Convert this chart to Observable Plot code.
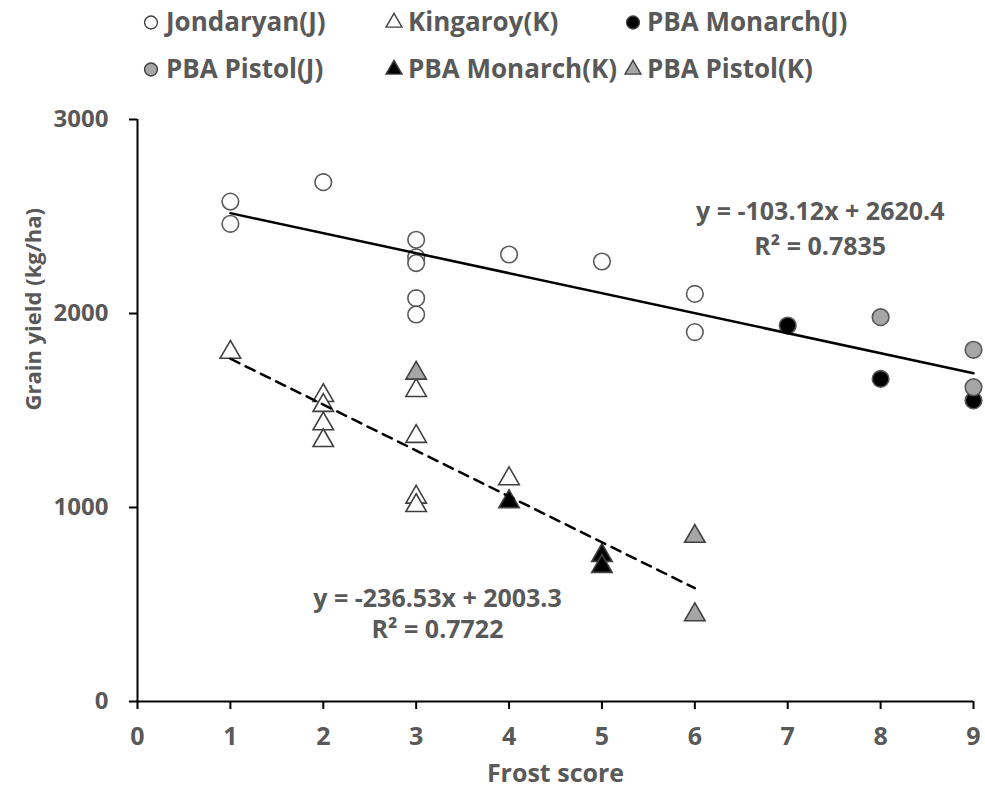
<!DOCTYPE html>
<html>
<head>
<meta charset="utf-8">
<script src="https://cdn.jsdelivr.net/npm/d3@7"></script>
<script src="https://cdn.jsdelivr.net/npm/@observablehq/plot@0.6"></script>
<style>
  body { margin: 0; background: #fff; font-family: "Open Sans", sans-serif; }
  #legend { position: relative; width: 985px; height: 95px; }
  .sym { position: absolute; }
  .lab { position: absolute; font-weight: 700; font-size: 26px; color: #595959; white-space: nowrap; line-height: 1; transform: translateY(-55%); }
</style>
</head>
<body>
<div id="legend"></div>
<div id="chart"></div>
<script>
// ---- data ----
const xTicks = [0, 1, 2, 3, 4, 5, 6, 7, 8, 9];
const yTicks = [0, 1000, 2000, 3000];

const seriesNames = ["Jondaryan(J)", "Kingaroy(K)", "PBA Monarch(J)", "PBA Pistol(J)", "PBA Monarch(K)", "PBA Pistol(K)"];
const seriesSymbols = ["circle", "triangle", "circle", "circle", "triangle", "triangle"];
const seriesFills = ["#ffffff", "#ffffff", "#000000", "#a6a6a6", "#000000", "#a6a6a6"];

const jondaryanX = [1, 1, 2, 3, 3, 3, 3, 3, 4, 5, 6, 6];
const jondaryanY = [2577, 2462, 2677, 2380, 2290, 2260, 2079, 1995, 2304, 2268, 2101, 1904];
const kingaroyX = [1, 2, 2, 2, 2, 3, 3, 3, 3, 4];
const kingaroyY = [1800, 1577, 1526, 1431, 1345, 1603, 1366, 1053, 1010, 1148];
const monarchJX = [7, 8, 9];
const monarchJY = [1938, 1663, 1552];
const pistolJX = [8, 9, 9];
const pistolJY = [1981, 1813, 1620];
const monarchKX = [4, 5, 5];
const monarchKY = [1030, 753, 696];
const pistolKX = [3, 6, 6];
const pistolKY = [1692, 851, 447];

const seriesX = [jondaryanX, kingaroyX, monarchJX, pistolJX, monarchKX, pistolKX];
const seriesY = [jondaryanY, kingaroyY, monarchJY, pistolJY, monarchKY, pistolKY];

// trendlines (equations printed on the chart)
const fitNames = ["J", "K"];
const fitSlopes = [-103.12, -236.53];
const fitIntercepts = [2620.4, 2003.3];
const fitXStart = [1, 1];
const fitXEnd = [9, 6];
const fitDash = [null, "10,7"];
const fitEquations = ["y = -103.12x + 2620.4", "y = -236.53x + 2003.3"];
const fitR2 = ["R² = 0.7835", "R² = 0.7722"];
// label anchors in data space (center x, baseline y of first / second line)
const fitLabelX = [7.35, 3.23];
const fitLabelY1 = [2480, 485];
const fitLabelY2 = [2299, 325];

// ---- build tables ----
const points = [];
seriesNames.forEach((name, i) => {
  seriesX[i].forEach((x, j) => points.push({series: name, x, y: seriesY[i][j], symbol: seriesSymbols[i], fill: seriesFills[i]}));
});
const circles = points.filter(d => d.symbol === "circle");
const triangles = points.filter(d => d.symbol === "triangle");

const fitLines = fitNames.map((n, i) => [fitXStart[i], fitXEnd[i]].map(x => ({fit: n, x, y: fitSlopes[i] * x + fitIntercepts[i]})));
const labels = [];
fitNames.forEach((n, i) => {
  labels.push({x: fitLabelX[i], y: fitLabelY1[i], text: fitEquations[i]});
  labels.push({x: fitLabelX[i], y: fitLabelY2[i], text: fitR2[i]});
});

const textGray = "#595959";
const fontSize = 25;

const marks = [
  Plot.ruleY([0], {stroke: "#000", strokeWidth: 2}),
  Plot.ruleX([0], {stroke: "#000", strokeWidth: 2}),
  Plot.axisY(yTicks, {tickSize: 8, tickPadding: 21, tickFormat: d => String(d), stroke: "#000", strokeWidth: 2, fill: textGray, fontSize: 24, fontWeight: 700, textStroke: "none", label: null}),
  Plot.axisX(xTicks, {tickSize: 8, tickPadding: 18, tickFormat: d => String(d), stroke: "#000", strokeWidth: 2, fill: textGray, fontSize, fontWeight: 700, textStroke: "none", label: null}),
  Plot.dot(circles, {x: "x", y: "y", r: 8.3, symbol: "circle", fill: "fill", stroke: "#595959", strokeWidth: 1.6}),
  Plot.dot(triangles, {x: "x", y: "y", r: 7.6, symbol: "triangle", fill: "fill", stroke: "#404040", strokeWidth: 1.6}),
  ...fitLines.map((rows, i) => Plot.line(rows, {x: "x", y: "y", stroke: "#000", strokeWidth: 2.5, strokeDasharray: fitDash[i]})),
  Plot.text(labels, {x: "x", y: "y", text: "text", textAnchor: "middle", lineAnchor: "bottom", fill: textGray, fontSize, fontWeight: 700}),
  Plot.text(["Grain yield (kg/ha)"], {text: d => d, frameAnchor: "left", rotate: -90, dx: -104, fill: textGray, fontSize: 22, fontWeight: 700}),
  Plot.text(["Frost score"], {text: d => d, frameAnchor: "bottom", dy: 80, fill: textGray, fontSize, fontWeight: 700})
];

const chart = Plot.plot({
  width: 985,
  height: 699,
  marginTop: 24,
  marginRight: 12,
  marginBottom: 93,
  marginLeft: 137,
  x: {domain: [0, 9], axis: null},
  y: {domain: [0, 3000], axis: null},
  color: {type: "identity"},
  style: {fontFamily: "'Open Sans', sans-serif", fontSize: "25px", fontWeight: 700, background: "#fff", overflow: "visible"},
  marks
});
document.getElementById("chart").appendChild(chart);

// ---- legend (HTML above the SVG) ----
const legendSymX = [151, 394, 633, 151, 394, 633];
const legendTextX = [166, 408, 647, 166, 408, 647];
const legendRowY = [22, 22, 22, 69, 69, 69];
const legend = document.getElementById("legend");
seriesNames.forEach((name, i) => {
  const s = document.createElementNS("http://www.w3.org/2000/svg", "svg");
  s.setAttribute("width", 20); s.setAttribute("height", 20);
  s.setAttribute("class", "sym");
  s.style.left = (legendSymX[i] - 10) + "px";
  s.style.top = (legendRowY[i] - 10) + "px";
  const path = document.createElementNS("http://www.w3.org/2000/svg", "path");
  const sym = seriesSymbols[i] === "circle" ? d3.symbolCircle : d3.symbolTriangle;
  path.setAttribute("d", d3.symbol(sym, seriesSymbols[i] === "circle" ? 130 : 110)());
  path.setAttribute("transform", "translate(10,10.5)");
  path.setAttribute("fill", seriesFills[i]);
  path.setAttribute("stroke", "#404040");
  path.setAttribute("stroke-width", 1.4);
  s.appendChild(path);
  legend.appendChild(s);
  const t = document.createElement("div");
  t.className = "lab";
  t.textContent = name;
  t.style.left = legendTextX[i] + "px";
  t.style.top = legendRowY[i] + "px";
  legend.appendChild(t);
});
</script>
</body>
</html>
